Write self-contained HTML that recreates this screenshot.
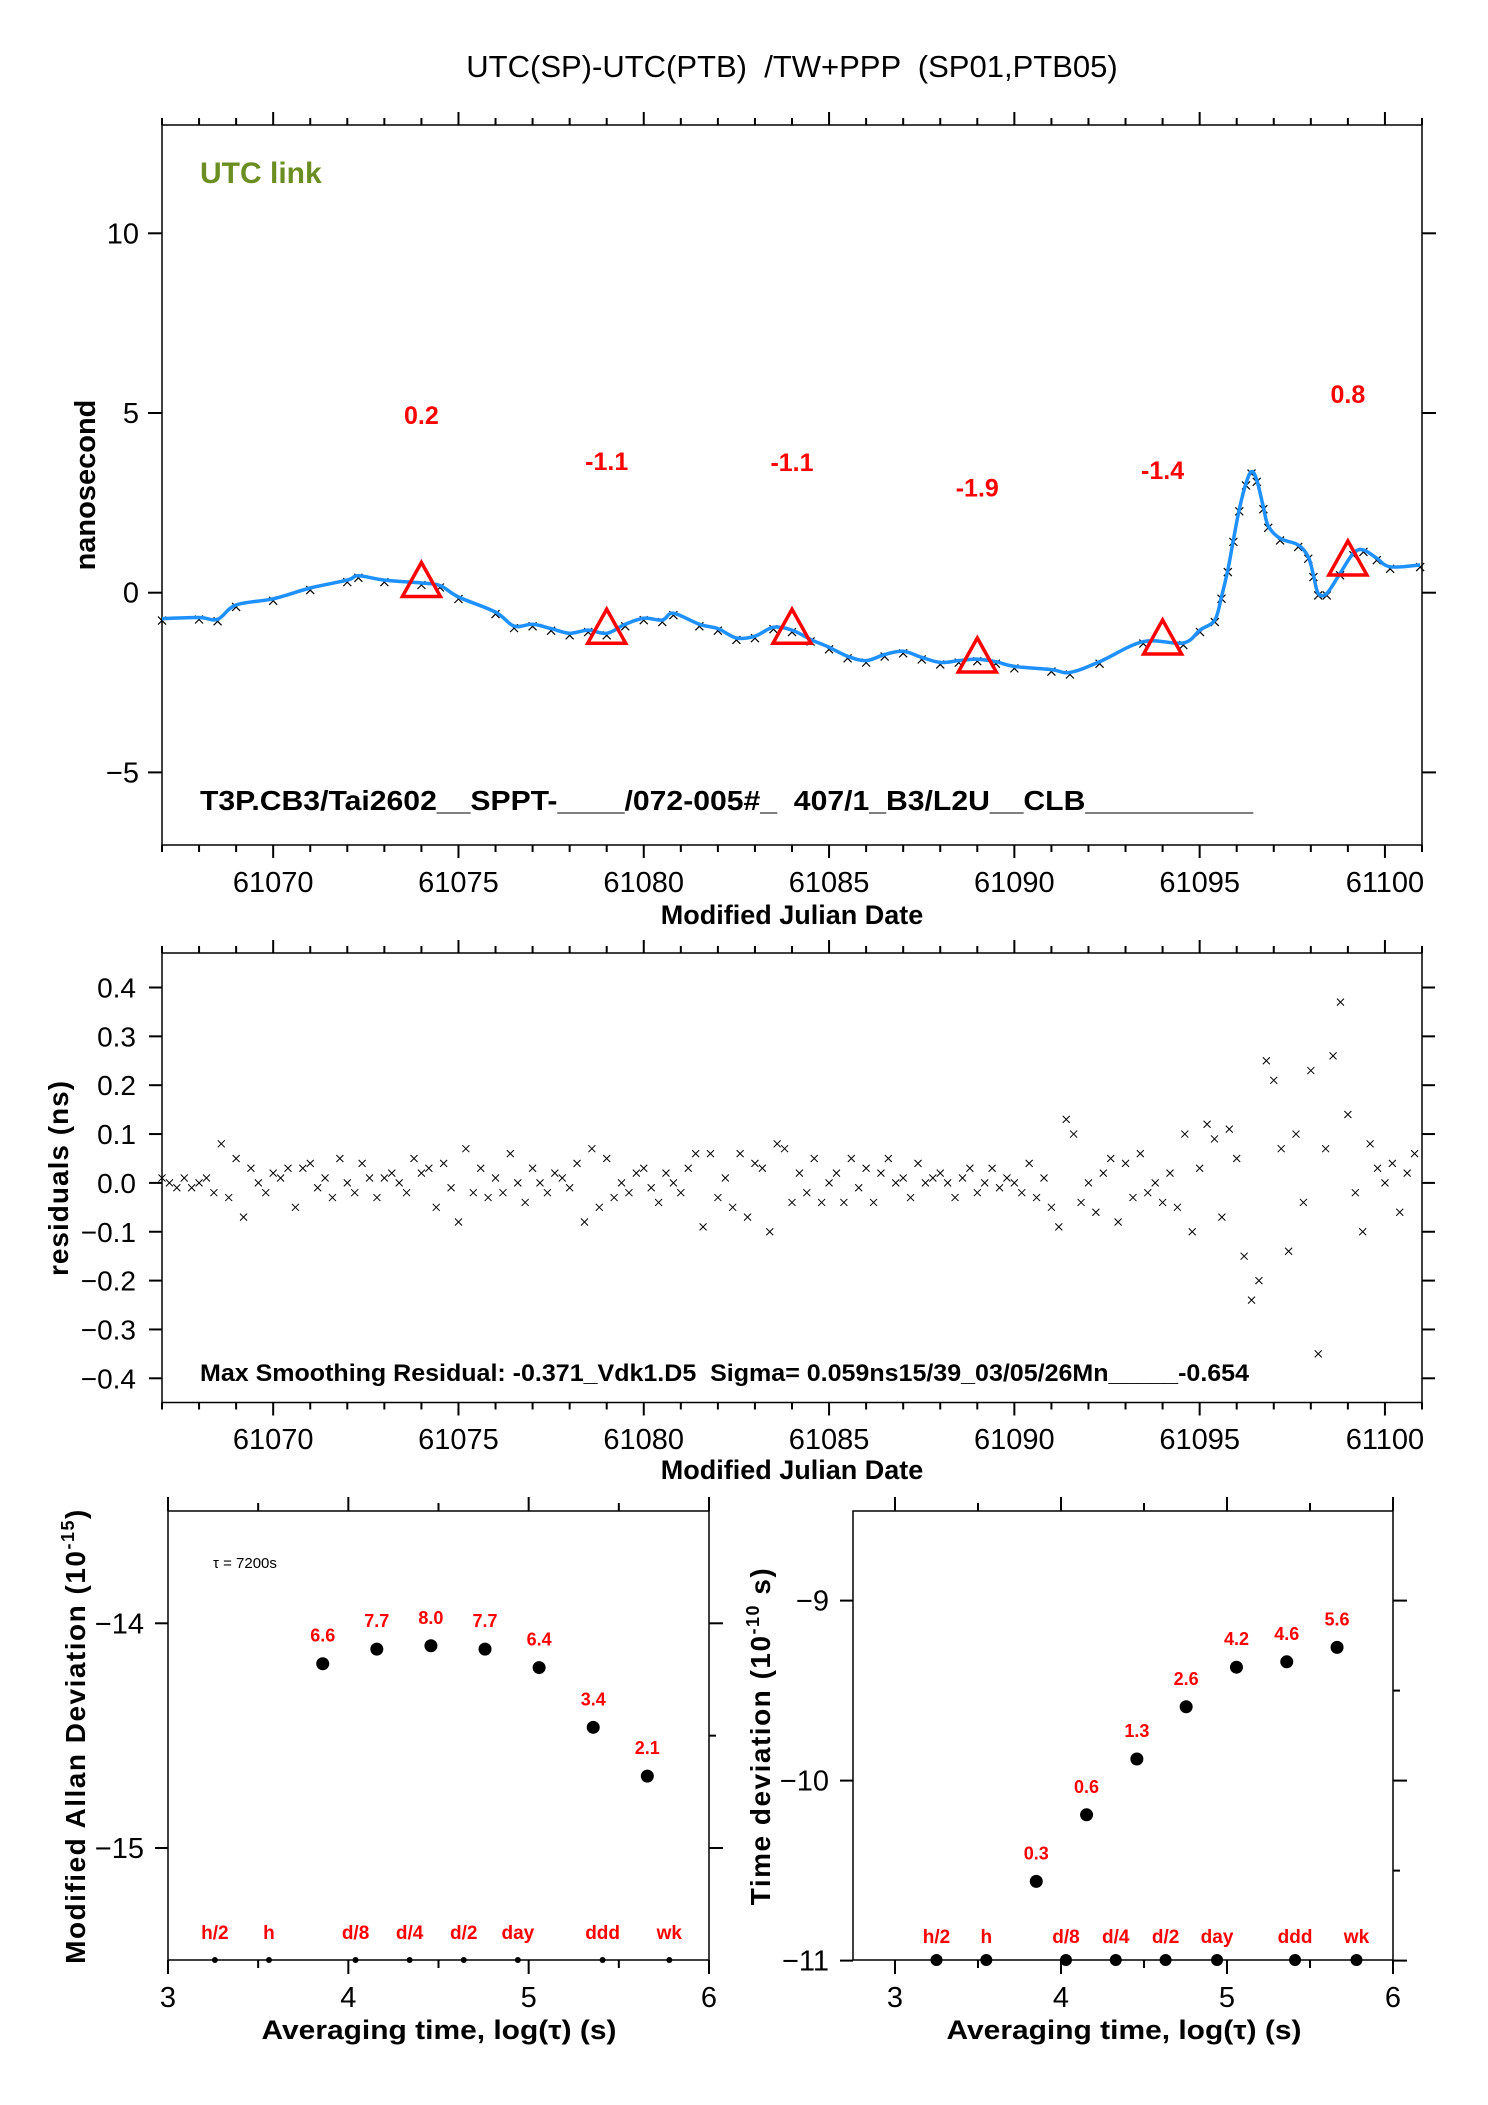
<!DOCTYPE html>
<html><head><meta charset="utf-8"><title>UTC(SP)-UTC(PTB)</title>
<style>
html,body{margin:0;padding:0;background:#fff;}
svg{display:block;font-family:"Liberation Sans",sans-serif;}
svg text{white-space:pre;}
</style></head>
<body>
<svg id="chart" width="1488" height="2105" viewBox="0 0 1488 2105" xmlns="http://www.w3.org/2000/svg" xml:space="preserve">
<rect x="0" y="0" width="1488" height="2105" fill="#fff"/>
<text x="792" y="77" text-anchor="middle" font-size="31">UTC(SP)-UTC(PTB)  /TW+PPP  (SP01,PTB05)</text>
<g id="g-top"></g>
<g id="g-res"></g>
<g id="g-adev"></g>
<g id="g-tdev"></g>
</svg>
<script>
// ---- data: top panel ----
const curveMjd = [61067,61068,61068.5,61069,61070,61071,61072,61072.3,61073,61074,61074.5,61075,61076,61076.5,61077,61077.5,61078,61078.5,61079,61079.5,61080,61080.5,61080.8,61081.5,61082,61082.5,61083,61083.5,61084,61084.5,61085,61085.5,61086,61086.5,61087,61087.5,61088,61088.5,61089,61089.5,61090,61091,61091.5,61092.3,61093.48,61094.56,61095.01,61095.41,61095.59,61095.76,61095.91,61096.07,61096.25,61096.4,61096.54,61096.72,61096.85,61097.17,61097.66,61097.93,61098.07,61098.2,61098.43,61098.79,61099.15,61099.42,61099.78,61100.14,61100.95];
const curveNs = [-0.72,-0.69,-0.74,-0.34,-0.17,0.13,0.35,0.47,0.35,0.27,0.2,-0.12,-0.54,-0.93,-0.88,-1.0,-1.13,-1.04,-1.13,-0.88,-0.71,-0.76,-0.57,-0.88,-1.0,-1.26,-1.21,-0.96,-1.04,-1.3,-1.52,-1.77,-1.89,-1.72,-1.63,-1.8,-1.94,-1.89,-1.85,-1.92,-2.05,-2.14,-2.22,-1.92,-1.36,-1.40,-1.04,-0.76,-0.11,0.63,1.47,2.32,3.04,3.37,3.14,2.38,1.86,1.51,1.33,1.0,0.49,-0.02,-0.02,0.54,1.10,1.19,0.96,0.72,0.77];
const triMjd = [61074,61079,61084,61089,61094,61099];
const triNs = [0.2,-1.1,-1.1,-1.9,-1.4,0.8];
const triLabels = ["0.2","-1.1","-1.1","-1.9","-1.4","0.8"];
const triLabelNs = [4.7,3.42,3.38,2.67,3.17,5.28];
const topYTicks = [10,5,0,-5];
const mjdTicks = [61070,61075,61080,61085,61090,61095,61100];
// ---- data: residuals ----
const resStart = 61067, resStep = 0.2;
const resVals = [
0.01,0.00,-0.01,0.01,-0.01, 0.00,0.01,-0.02,0.08,-0.03, 0.05,-0.07,0.03,0.00,-0.02, 0.02,0.01,0.03,-0.05,0.03,
0.04,-0.01,0.01,-0.03,0.05, 0.00,-0.02,0.04,0.01,-0.03, 0.01,0.02,0.00,-0.02,0.05, 0.02,0.03,-0.05,0.04,-0.01,
-0.08,0.07,-0.02,0.03,-0.03, 0.01,-0.02,0.06,0.00,-0.04, 0.03,0.00,-0.02,0.02,0.01, -0.01,0.04,-0.08,0.07,-0.05,
0.05,-0.03,0.00,-0.02,0.02, 0.03,-0.01,-0.04,0.02,0.00, -0.02,0.03,0.06,-0.09,0.06, -0.03,0.01,-0.05,0.06,-0.07,
0.04,0.03,-0.10,0.08,0.07, -0.04,0.02,-0.02,0.05,-0.04, 0.00,0.02,-0.04,0.05,-0.01, 0.03,-0.04,0.02,0.05,0.00,
0.01,-0.03,0.04,0.00,0.01, 0.02,0.00,-0.03,0.01,0.03, -0.02,0.00,0.03,-0.01,0.01, 0.00,-0.02,0.04,-0.03,0.01,
-0.05,-0.09,0.13,0.10,-0.04, 0.00,-0.06,0.02,0.05,-0.08, 0.04,-0.03,0.06,-0.02,0.00, -0.04,0.02,-0.05,0.10,-0.10,
0.03,0.12,0.09,-0.07,0.11, 0.05,-0.15,-0.24,-0.20,0.25, 0.21,0.07,-0.14,0.10,-0.04, 0.23,-0.35,0.07,0.26,0.37,
0.14,-0.02,-0.10,0.08,0.03, 0.00,0.04,-0.06,0.02,0.06];
const resYTicks = [0.4,0.3,0.2,0.1,0.0,-0.1,-0.2,-0.3,-0.4];
const resYLabels = ["0.4","0.3","0.2","0.1","0.0","\u22120.1","\u22120.2","\u22120.3","\u22120.4"];
// ---- data: Allan deviation ----
const adevLogTau = [3.858,4.158,4.458,4.758,5.058,5.358,5.658];
const adevVals = [-14.18,-14.115,-14.10,-14.115,-14.197,-14.463,-14.68];
const adevLabels = ["6.6","7.7","8.0","7.7","6.4","3.4","2.1"];
const markLogTau = [3.26,3.56,4.04,4.34,4.64,4.94,5.41,5.78];
const markLabels = ["h/2","h","d/8","d/4","d/2","day","ddd","wk"];
// ---- data: time deviation ----
const tdevLogTau = [3.851,4.154,4.457,4.754,5.057,5.36,5.663];
const tdevVals = [-10.56,-10.19,-9.88,-9.59,-9.37,-9.34,-9.26];
const tdevLabels = ["0.3","0.6","1.3","2.6","4.2","4.6","5.6"];
const tdevMarkLogTau = [3.25,3.55,4.03,4.33,4.63,4.94,5.41,5.78];
const logTicks = [3,4,5,6];

const NS = "http://www.w3.org/2000/svg";
function mk(parent, tag, attrs, text){
  const e = document.createElementNS(NS, tag);
  for (const k in attrs) e.setAttribute(k, attrs[k]);
  if (text !== undefined) e.textContent = text;
  parent.appendChild(e);
  return e;
}
function lin(d0,d1,r0,r1){ return v => r0 + (v-d0)*(r1-r0)/(d1-d0); }
function xMarker(parent, x, y, s, color, w){
  return mk(parent,'path',{d:`M${x-s} ${y-s}L${x+s} ${y+s}M${x-s} ${y+s}L${x+s} ${y-s}`,stroke:color,'stroke-width':w,fill:'none'});
}
function smoothPath(P){
  let d = `M${P[0][0].toFixed(1)} ${P[0][1].toFixed(1)}`;
  for(let i=0;i<P.length-1;i++){
    const p0=P[Math.max(0,i-1)], p1=P[i], p2=P[i+1], p3=P[Math.min(P.length-1,i+2)];
    const c1x=p1[0]+(p2[0]-p0[0])/6, c1y=p1[1]+(p2[1]-p0[1])/6;
    const c2x=p2[0]-(p3[0]-p1[0])/6, c2y=p2[1]-(p3[1]-p1[1])/6;
    d += ` C${c1x.toFixed(1)} ${c1y.toFixed(1)} ${c2x.toFixed(1)} ${c2y.toFixed(1)} ${p2[0].toFixed(1)} ${p2[1].toFixed(1)}`;
  }
  return d;
}

// ================= TOP PANEL =================
(function(){
  const g = document.getElementById('g-top');
  const L=162,R=1422,T=125,B=845;
  const x = lin(61067,61101,L,R), y = lin(0,10,592.7,233.3);
  const fr = mk(g,'rect',{x:L,y:T,width:R-L,height:B-T,fill:'none',stroke:'#000','stroke-width':1.5});
   
  for(let m=61067;m<=61101;m++){
    const len = (m%5===0)?13:7;
    mk(g,'line',{x1:x(m),x2:x(m),y1:T,y2:T-len,stroke:'#000','stroke-width':2});
    mk(g,'line',{x1:x(m),x2:x(m),y1:B,y2:B+len,stroke:'#000','stroke-width':2});
  }
  mjdTicks.forEach(m=>{
    const t = mk(g,'text',{x:x(m),y:892,'text-anchor':'middle','font-size':29},String(m));
     
  });
  topYTicks.forEach(v=>{
    mk(g,'line',{x1:L,x2:L-14,y1:y(v),y2:y(v),stroke:'#000','stroke-width':2});
    mk(g,'line',{x1:R,x2:R+14,y1:y(v),y2:y(v),stroke:'#000','stroke-width':2});
    const t = mk(g,'text',{x:139,y:y(v)+10,'text-anchor':'end','font-size':29},(v<0?'\u2212':'')+Math.abs(v));
     
  });
  const xt = mk(g,'text',{x:792,y:924,'text-anchor':'middle','font-size':27,'font-weight':'bold'},'Modified Julian Date');
   
  const yt = mk(g,'text',{x:95,y:485,'text-anchor':'middle','font-size':29,'font-weight':'bold',transform:'rotate(-90 95 485)'},'nanosecond');
   
  const ul = mk(g,'text',{x:200,y:183,'font-size':30,'font-weight':'bold',fill:'#6b8e23'},'UTC link');
   
  const info = mk(g,'text',{x:200,y:810,'font-size':28,'font-weight':'bold',textLength:1053,lengthAdjust:'spacingAndGlyphs'},'T3P.CB3/Tai2602__SPPT-____/072-005#_  407/1_B3/L2U__CLB__________');
   
  const P = curveMjd.map((m,i)=>[x(m), y(curveNs[i])]);
  curveMjd.forEach((m,i)=>{
    const mkx = xMarker(g,x(m),y(curveNs[i])+2,4,'#000',1.2);
     
  });
  const pl = mk(g,'path',{d:smoothPath(P),fill:'none',stroke:'#1e90ff','stroke-width':3.5,'stroke-linejoin':'round'});
   
  triMjd.forEach((m,i)=>{
    const cx=x(m), cy=y(triNs[i]);
    const tr = mk(g,'polygon',{points:`${cx},${cy-23} ${cx-19},${cy+11} ${cx+19},${cy+11}`,fill:'none',stroke:'#ff0000','stroke-width':3.5});
     
    const lb = mk(g,'text',{x:cx,y:y(triLabelNs[i]),'text-anchor':'middle','font-size':25,'font-weight':'bold',fill:'#ff0000'},triLabels[i]);
     
  });
})();

// ================= RESIDUALS =================
(function(){
  const g = document.getElementById('g-res');
  const L=162,R=1422,T=953,B=1402.5;
  const x = lin(61067,61101,L,R), y = lin(0,0.4,1182.9,987.5);
  const fr = mk(g,'rect',{x:L,y:T,width:R-L,height:B-T,fill:'none',stroke:'#000','stroke-width':1.5});
   
  for(let m=61067;m<=61101;m++){
    const len = (m%5===0)?13:7;
    mk(g,'line',{x1:x(m),x2:x(m),y1:T,y2:T-len,stroke:'#000','stroke-width':2});
    mk(g,'line',{x1:x(m),x2:x(m),y1:B,y2:B+len,stroke:'#000','stroke-width':2});
  }
  mjdTicks.forEach(m=>{
    const t = mk(g,'text',{x:x(m),y:1449,'text-anchor':'middle','font-size':29},String(m));
     
  });
  resYTicks.forEach((v,i)=>{
    mk(g,'line',{x1:L,x2:L-13,y1:y(v),y2:y(v),stroke:'#000','stroke-width':2});
    mk(g,'line',{x1:R,x2:R+13,y1:y(v),y2:y(v),stroke:'#000','stroke-width':2});
    const t = mk(g,'text',{x:136,y:y(v)+10,'text-anchor':'end','font-size':28},resYLabels[i]);
     
  });
  const xt = mk(g,'text',{x:792,y:1479,'text-anchor':'middle','font-size':27,'font-weight':'bold'},'Modified Julian Date');
   
  const yt = mk(g,'text',{x:68,y:1178,'text-anchor':'middle','font-size':28,'font-weight':'bold','letter-spacing':1,transform:'rotate(-90 68 1178)'},'residuals (ns)');
   
  const st = mk(g,'text',{x:200,y:1381,'font-size':24,'font-weight':'bold',textLength:1049,lengthAdjust:'spacingAndGlyphs'},'Max Smoothing Residual: -0.371_Vdk1.D5  Sigma= 0.059ns15/39_03/05/26Mn_____-0.654');
   
  resVals.forEach((v,i)=>{
    const m = resStart + i*resStep;
    const p = xMarker(g,x(m),y(v),3.5,'#000',1);
     
  });
})();

// ================= ALLAN DEVIATION =================
(function(){
  const g = document.getElementById('g-adev');
  const L=168,R=709,T=1511,B=1960;
  const x = lin(3,6,168,709), y = lin(-14,-15,1623.3,1848);
  const fr = mk(g,'rect',{x:L,y:T,width:R-L,height:B-T,fill:'none',stroke:'#000','stroke-width':1.5});
   
  for(let v=3;v<=6;v+=0.5){
    const len = Number.isInteger(v)?14:8;
    mk(g,'line',{x1:x(v),x2:x(v),y1:T,y2:T-len,stroke:'#000','stroke-width':2});
    mk(g,'line',{x1:x(v),x2:x(v),y1:B,y2:B+len,stroke:'#000','stroke-width':2});
  }
  logTicks.forEach(v=>{
    const t = mk(g,'text',{x:x(v),y:2007,'text-anchor':'middle','font-size':29},String(v));
     
  });
  [-14,-15].forEach(v=>{
    mk(g,'line',{x1:L,x2:L-13,y1:y(v),y2:y(v),stroke:'#000','stroke-width':2});
    mk(g,'line',{x1:R,x2:R+14,y1:y(v),y2:y(v),stroke:'#000','stroke-width':2});
    const t = mk(g,'text',{x:144,y:y(v)+10,'text-anchor':'end','font-size':29},'\u2212'+Math.abs(v));
     
  });
  mk(g,'line',{x1:R,x2:R+7,y1:y(-14.5),y2:y(-14.5),stroke:'#000','stroke-width':2});
  const xt = mk(g,'text',{x:439,y:2039,'text-anchor':'middle','font-size':27,'font-weight':'bold',textLength:355,lengthAdjust:'spacingAndGlyphs'},'Averaging time, log(\u03c4) (s)');
   
  const yt = mk(g,'text',{x:85,y:1736,'text-anchor':'middle','font-size':28,'font-weight':'bold','letter-spacing':1.5,transform:'rotate(-90 85 1736)'});
   
  yt.appendChild(document.createTextNode('Modified Allan Deviation (10'));
  mk(yt,'tspan',{'font-size':18,dy:-11},'-15'); mk(yt,'tspan',{dy:11},')');
  const tau = mk(g,'text',{x:213,y:1568,'font-size':15},'\u03c4 = 7200s');
   
  adevLogTau.forEach((v,i)=>{
    const c = mk(g,'ellipse',{cx:x(v),cy:y(adevVals[i]),rx:6.5,ry:6.5,fill:'#000'});
     
    const t = mk(g,'text',{x:x(v),y:y(adevVals[i])-22,'text-anchor':'middle','font-size':18,'font-weight':'bold',fill:'#ff0000'},adevLabels[i]);
     
  });
  markLogTau.forEach((v,i)=>{
    const c = mk(g,'circle',{cx:x(v),cy:B,r:3,fill:'#000'});
     
    const t = mk(g,'text',{x:x(v),y:1939,'text-anchor':'middle','font-size':19,'font-weight':'bold',fill:'#ff0000'},markLabels[i]);
     
  });
})();

// ================= TIME DEVIATION =================
(function(){
  const g = document.getElementById('g-tdev');
  const L=853,R=1393,T=1511,B=1960;
  const x = lin(3,6,895,1393), y = lin(-9,-10,1600.6,1780.6);
  const fr = mk(g,'rect',{x:L,y:T,width:R-L,height:B-T,fill:'none',stroke:'#000','stroke-width':1.5});
   
  for(let v=3;v<=6;v+=0.5){
    const len = Number.isInteger(v)?14:8;
    mk(g,'line',{x1:x(v),x2:x(v),y1:T,y2:T-len,stroke:'#000','stroke-width':2});
    mk(g,'line',{x1:x(v),x2:x(v),y1:B,y2:B+len,stroke:'#000','stroke-width':2});
  }
  logTicks.forEach(v=>{
    const t = mk(g,'text',{x:x(v),y:2007,'text-anchor':'middle','font-size':29},String(v));
     
  });
  [-9,-10,-11].forEach(v=>{
    mk(g,'line',{x1:L,x2:L-13,y1:y(v),y2:y(v),stroke:'#000','stroke-width':2});
    mk(g,'line',{x1:R,x2:R+14,y1:y(v),y2:y(v),stroke:'#000','stroke-width':2});
    const t = mk(g,'text',{x:829,y:y(v)+10,'text-anchor':'end','font-size':29},'\u2212'+Math.abs(v));
     
  });
  [-9.5,-10.5].forEach(v=>mk(g,'line',{x1:R,x2:R+7,y1:y(v),y2:y(v),stroke:'#000','stroke-width':2}));
  const xt = mk(g,'text',{x:1124,y:2039,'text-anchor':'middle','font-size':27,'font-weight':'bold',textLength:355,lengthAdjust:'spacingAndGlyphs'},'Averaging time, log(\u03c4) (s)');
   
  const yt = mk(g,'text',{x:770,y:1736,'text-anchor':'middle','font-size':28,'font-weight':'bold','letter-spacing':1.5,transform:'rotate(-90 770 1736)'});
   
  yt.appendChild(document.createTextNode('Time deviation (10'));
  mk(yt,'tspan',{'font-size':18,dy:-11},'-10'); mk(yt,'tspan',{dy:11},' s)');
  tdevLogTau.forEach((v,i)=>{
    const c = mk(g,'ellipse',{cx:x(v),cy:y(tdevVals[i]),rx:6.5,ry:6.5,fill:'#000'});
     
    const t = mk(g,'text',{x:x(v),y:y(tdevVals[i])-22,'text-anchor':'middle','font-size':18,'font-weight':'bold',fill:'#ff0000'},tdevLabels[i]);
     
  });
  tdevMarkLogTau.forEach((v,i)=>{
    const c = mk(g,'circle',{cx:x(v),cy:B,r:6,fill:'#000'});
     
    const t = mk(g,'text',{x:x(v),y:1943,'text-anchor':'middle','font-size':19,'font-weight':'bold',fill:'#ff0000'},markLabels[i]);
     
  });
})();
</script>
</body></html>
